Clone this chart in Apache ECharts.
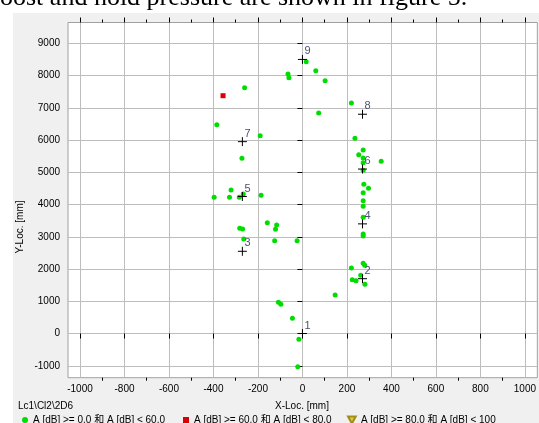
<!DOCTYPE html>
<html>
<head>
<meta charset="utf-8">
<script src="https://cdn.jsdelivr.net/npm/echarts@6/dist/echarts.min.js"></script>
<style>
  html, body { margin: 0; padding: 0; background: #fff; overflow: hidden; }
  #panel { position: absolute; left: 13px; top: 13px; width: 526px; height: 410px; background: #f0f0f0; }
  #chart { position: absolute; left: 0; top: 0; width: 539px; height: 423px; }
</style>
</head>
<body>
<div id="panel"></div>
<div id="chart"></div>
<script>
// Axis tick positions (mm)
const xMajorTicks = [-1000, -800, -600, -400, -200, 0, 200, 400, 600, 800, 1000];
const xMinorTicks = [-900, -700, -500, -300, -100, 100, 300, 500, 700, 900];
const yMajorTicks = [-1000, 0, 1000, 2000, 3000, 4000, 5000, 6000, 7000, 8000, 9000];

// Located events, amplitude A [dB] < 60
const hitsLow = [
  [17, 8430], [60, 8150], [-65, 8048], [-61, 7933], [102, 7840], [-260, 7623],
  [220, 7149], [73, 6839], [-385, 6476], [-190, 6135], [236, 6054],
  [273, 5692], [253, 5546], [273, 5443], [273, 5298], [354, 5341], [273, 5062],
  [-272, 5434], [276, 4628], [297, 4504], [273, 4368], [273, 4119], [273, 3946],
  [273, 3605], [273, 3085], [273, 3023],
  [-321, 4451], [-397, 4225], [-328, 4225], [-284, 4225], [-266, 4327], [-186, 4287],
  [-158, 3437], [-116, 3366], [-121, 3233], [-282, 3264], [-269, 3242], [-264, 2932],
  [-125, 2879], [-24, 2879],
  [273, 2178], [280, 2116], [220, 2033], [262, 1806], [224, 1670], [241, 1639],
  [281, 1527], [147, 1195], [-108, 969], [-97, 907], [-45, 473], [-16, -178], [-21, -1028]
];
// Located events, 60 <= A [dB] < 80
const hitsMid = [[-357, 7375]];
// Located events, 80 <= A [dB] < 100
const hitsHigh = [];

// Sensor positions
const sensorNames = ['1', '2', '3', '4', '5', '6', '7', '8', '9'];
const sensorX = [0, 270, -270, 270, -270, 270, -270, 270, 0];
const sensorY = [0, 1700, 2550, 3400, 4250, 5100, 5950, 6800, 8500];

const classNames = [
  'A [dB] >= 0.0 和 A [dB] < 60.0',
  'A [dB] >= 60.0 和 A [dB] < 80.0',
  'A [dB] >= 80.0 和 A [dB] < 100'
];

const FONT = "'Liberation Sans', 'Noto Sans CJK SC', sans-serif";
const GRID_LINE = '#bdbdbd';
const plain = v => String(v);

function xAxisDef(position, ticks, tickLen, withLabels, withSplit) {
  return {
    type: 'value', position: position, min: -1054, max: 1056,
    axisLine: { show: false },
    axisTick: { show: true, customValues: ticks, length: tickLen, lineStyle: { color: '#000', width: 1 } },
    axisLabel: withLabels
      ? { show: true, customValues: ticks, formatter: plain, margin: 7, color: '#000', fontSize: 10, fontFamily: FONT }
      : { show: false },
    splitLine: { show: withSplit, lineStyle: { color: GRID_LINE, width: 1 } }
  };
}

const chart = echarts.init(document.getElementById('chart'), null, { renderer: 'canvas' });

const legendText = { color: '#000', fontSize: 10, fontFamily: FONT };

chart.setOption({
  backgroundColor: 'transparent',
  animation: false,
  grid: {
    left: 68, right: 0, top: 22.5, bottom: 45.3,
    show: true, backgroundColor: '#fff', borderColor: '#a0a0a0', borderWidth: 1
  },
  xAxis: [
    xAxisDef('bottom', xMajorTicks, 5, true, true),
    xAxisDef('bottom', xMinorTicks, 3, false, false),
    xAxisDef('top', xMajorTicks, 5, false, false),
    xAxisDef('top', xMinorTicks, 3, false, false)
  ],
  yAxis: {
    type: 'value', min: -1370, max: 9645,
    axisLine: { show: false },
    axisTick: { show: true, customValues: yMajorTicks, length: 5, lineStyle: { color: '#000', width: 1 } },
    axisLabel: { customValues: yMajorTicks, formatter: plain, margin: 8, color: '#000', fontSize: 10, fontFamily: FONT },
    splitLine: { show: true, lineStyle: { color: GRID_LINE, width: 1 } }
  },
  legend: [
    { data: [classNames[0]], left: 22, top: 415, padding: 0, itemWidth: 6, itemHeight: 6,
      textStyle: legendText, selectedMode: false },
    { data: [classNames[1]], left: 183, top: 415, padding: 0, itemWidth: 6, itemHeight: 6,
      textStyle: legendText, selectedMode: false },
    { data: [classNames[2]], left: 347, top: 415, padding: 0, itemWidth: 8, itemHeight: 7,
      textStyle: legendText, selectedMode: false }
  ],
  graphic: [
    { type: 'text', left: -13, top: -15, silent: true,
      style: { text: 'boost and hold pressure are shown in figure 5.', fill: '#000',
               font: "26px 'Liberation Serif', 'Times New Roman', serif" } },
    { type: 'text', left: 18, top: 401, silent: true,
      style: { text: 'Lc1\\Cl2\\2D6', fill: '#000', font: '10px ' + FONT } },
    { type: 'text', x: 302, y: 406, silent: true,
      style: { text: 'X-Loc. [mm]', fill: '#000', font: '10px ' + FONT, align: 'center', verticalAlign: 'middle' } },
    { type: 'text', x: 20, y: 227, rotation: Math.PI / 2, silent: true,
      style: { text: 'Y-Loc. [mm]', fill: '#000', font: '10px ' + FONT, align: 'center', verticalAlign: 'middle' } }
  ],
  series: [
    { name: classNames[0], type: 'scatter', data: hitsLow, symbol: 'circle', symbolSize: 5,
      itemStyle: { color: '#00dd00', opacity: 1 } },
    { name: classNames[1], type: 'scatter', data: hitsMid, symbol: 'rect', symbolSize: 5,
      itemStyle: { color: '#dd0000', opacity: 1 } },
    { name: classNames[2], type: 'scatter', data: hitsHigh, symbol: 'path://M0,0 L10,0 L5,9 Z', symbolSize: 7,
      itemStyle: { color: '#e8c000', borderColor: '#8a7a00', borderWidth: 1 } },
    { name: 'Sensors', type: 'scatter',
      data: sensorNames.map((n, i) => ({ name: n, value: [sensorX[i], sensorY[i]] })),
      symbol: 'path://M5,0 L5,10 M0,5 L10,5', symbolSize: 9,
      itemStyle: { color: 'rgba(0,0,0,0)', borderColor: '#000', borderWidth: 1, opacity: 1 },
      label: { show: true, position: 'right', distance: 0, offset: [-3, -8],
               formatter: p => p.name, color: '#4a5470', fontSize: 11, fontFamily: FONT },
      z: 5 }
  ]
});
</script>
</body>
</html>
